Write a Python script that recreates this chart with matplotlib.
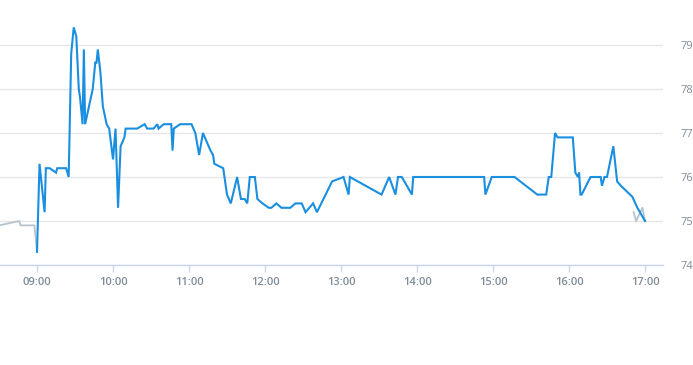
import matplotlib
matplotlib.use("Agg")
import matplotlib.pyplot as plt

# Main series (blue)
blue_times = ["09:00", "09:02", "09:06", "09:07", "09:10", "09:15", "09:16", "09:23", "09:25",
              "09:27", "09:29", "09:31", "09:33", "09:34", "09:36", "09:37", "09:38", "09:44",
              "09:46", "09:47", "09:48", "09:50", "09:52", "09:55", "09:57", "10:00", "10:02",
              "10:04", "10:06", "10:09", "10:10", "10:19", "10:25", "10:27", "10:32", "10:35",
              "10:36", "10:40", "10:46", "10:47", "10:48", "10:53", "11:02", "11:05", "11:08",
              "11:11", "11:17", "11:19", "11:20", "11:27", "11:28", "11:30", "11:33", "11:38",
              "11:41", "11:44", "11:46", "11:48", "11:52", "11:54", "11:58", "12:03", "12:05",
              "12:09", "12:13", "12:20", "12:24", "12:29", "12:32", "12:38", "12:41", "12:53",
              "13:02", "13:06", "13:07", "13:32", "13:38", "13:43", "13:45", "13:48", "13:56",
              "13:57", "14:53", "14:54", "14:59", "15:17", "15:35", "15:42", "15:44", "15:46",
              "15:49", "15:51", "16:03", "16:05", "16:07", "16:08", "16:09", "16:10", "16:17",
              "16:25", "16:26", "16:28", "16:30", "16:35", "16:38", "16:41", "16:50", "16:54",
              "17:00"]
blue_values = [74.3, 76.3, 75.2, 76.2, 76.2, 76.1, 76.2, 76.2, 76.0,
               78.8, 79.4, 79.2, 78.0, 77.8, 77.2, 78.9, 77.2, 78.0,
               78.6, 78.6, 78.9, 78.4, 77.6, 77.2, 77.1, 76.4, 77.1,
               75.3, 76.7, 76.9, 77.1, 77.1, 77.2, 77.1, 77.1, 77.2,
               77.1, 77.2, 77.2, 76.6, 77.1, 77.2, 77.2, 77.0, 76.5,
               77.0, 76.6, 76.5, 76.3, 76.2, 76.0, 75.6, 75.4, 76.0,
               75.5, 75.5, 75.4, 76.0, 76.0, 75.5, 75.4, 75.3, 75.3,
               75.4, 75.3, 75.3, 75.4, 75.4, 75.2, 75.4, 75.2, 75.9,
               76.0, 75.6, 76.0, 75.6, 76.0, 75.6, 76.0, 76.0, 75.6,
               76.0, 76.0, 75.6, 76.0, 76.0, 75.6, 75.6, 76.0, 76.0,
               77.0, 76.9, 76.9, 76.1, 76.0, 76.1, 75.6, 75.6, 76.0,
               76.0, 75.8, 76.0, 76.0, 76.7, 75.9, 75.8, 75.55, 75.3,
               75.0]

# Secondary series (gray) - pre-open and closing auction
gray_pre_times = ["08:30", "08:46", "08:47", "08:58", "09:00"]
gray_pre_values = [74.9, 75.0, 74.9, 74.9, 74.3]
gray_post_times = ["16:51", "16:53", "16:58", "17:00"]
gray_post_values = [75.2, 75.0, 75.3, 75.0]

x_tick_hours = [9, 10, 11, 12, 13, 14, 15, 16, 17]
x_tick_labels = ["09:00", "10:00", "11:00", "12:00", "13:00", "14:00", "15:00", "16:00", "17:00"]
y_ticks = [74, 75, 76, 77, 78, 79]
y_tick_labels = ["74", "75", "76", "77", "78", "79"]


def to_hours(ts):
    out = []
    for t in ts:
        h, m = t.split(":")
        out.append(int(h) + int(m) / 60.0)
    return out


W, H = 693, 365
fig = plt.figure(figsize=(W / 100, H / 100), dpi=100)
ax_left, ax_right = 0 / W, 663 / W
ax_bottom, ax_top = (H - 265) / H, (H - 23) / H
ax = fig.add_axes([ax_left, ax_bottom, ax_right - ax_left, ax_top - ax_bottom])

ax.plot(to_hours(gray_pre_times), gray_pre_values, color="#b5c3cc", lw=1.3, zorder=2)
ax.plot(to_hours(gray_post_times), gray_post_values, color="#b5c3cc", lw=1.3, zorder=2)
ax.plot(to_hours(blue_times), blue_values, color="#1a8fe0", lw=1.5, zorder=3,
        solid_joinstyle="miter")

ax.set_xlim(9 - 37 / 76, 17 + 18 / 76)
ax.set_ylim(74, 79.5)

for s in ["top", "left", "right"]:
    ax.spines[s].set_visible(False)
ax.spines["bottom"].set_color("#ccd6eb")
ax.spines["bottom"].set_linewidth(1)

ax.set_yticks(y_ticks)
ax.set_yticklabels(y_tick_labels)
ax.yaxis.tick_right()
ax.tick_params(axis="y", length=0, pad=12.5, labelsize=8, labelcolor="#7f8c99")
ax.grid(axis="y", color="#e6e6e6", lw=1)
ax.set_axisbelow(True)

ax.set_xticks(x_tick_hours)
ax.set_xticklabels(x_tick_labels)
ax.tick_params(axis="x", length=5, width=1, color="#ccd6eb", pad=3.5, labelsize=8,
               labelcolor="#7f8c99")

for lab in ax.get_xticklabels() + ax.get_yticklabels():
    lab.set_fontfamily("Open Sans")
for lab in ax.get_xticklabels():
    lab.set_fontweight("semibold")

fig.savefig("out.png", dpi=100)
